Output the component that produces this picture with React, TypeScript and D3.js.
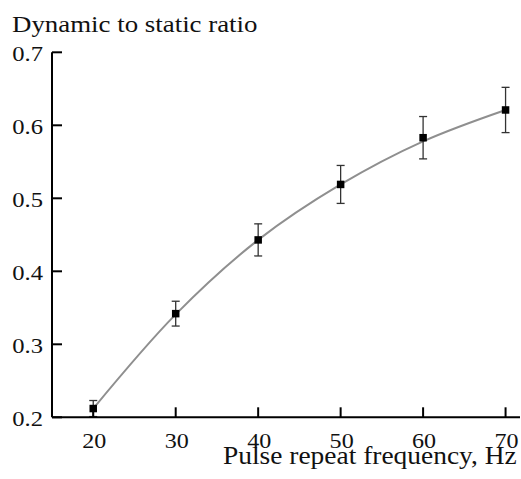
import React from "react";
import * as d3 from "d3";

const frequencies = [20, 30, 40, 50, 60, 70];
const ratios = [0.212, 0.342, 0.443, 0.519, 0.583, 0.621];
const errors = [0.011, 0.017, 0.022, 0.026, 0.029, 0.031];
const fitValues = [0.212, 0.341, 0.443, 0.519, 0.578, 0.621];
const xTicks = [20, 30, 40, 50, 60, 70];
const yTicks = [0.2, 0.3, 0.4, 0.5, 0.6, 0.7];

const W = 521;
const H = 479;
const FONT = "Liberation Serif";
const SX = 1.12;

function T(props: {
  x: number;
  y: number;
  size: number;
  anchor?: "start" | "middle" | "end";
  children: React.ReactNode;
}) {
  return (
    <text
      transform={`translate(${props.x},${props.y}) scale(${SX},1)`}
      fontSize={props.size}
      fontFamily={FONT}
      textAnchor={props.anchor || "start"}
      fill="#111"
    >
      {props.children}
    </text>
  );
}

export default function App() {
  const x = d3.scaleLinear().domain([15, 71.75]).range([52, 520]);
  const y = d3.scaleLinear().domain([0.2, 0.7]).range([417.3, 52.3]);

  const fitPts: [number, number][] = frequencies.map((f, i) => [x(f), y(fitValues[i])]);
  const line = d3.line().curve(d3.curveCatmullRom.alpha(0.5))(fitPts) || "";

  return (
    <svg
      width={W}
      height={H}
      style={{ position: "absolute", left: 0, top: 0, background: "#fff", fontFamily: FONT }}
    >
      {/* fitted curve */}
      <path d={line} fill="none" stroke="#8f8f8f" strokeWidth={2} />

      {/* error bars */}
      {frequencies.map((f, i) => {
        const cx = x(f);
        const top = y(ratios[i] + errors[i]);
        const bot = y(ratios[i] - errors[i]);
        return (
          <g key={"e" + f} stroke="#333" strokeWidth={1.3}>
            <line x1={cx} x2={cx} y1={top} y2={bot} />
            <line x1={cx - 4} x2={cx + 4} y1={top} y2={top} />
            <line x1={cx - 4} x2={cx + 4} y1={bot} y2={bot} />
          </g>
        );
      })}

      {/* markers */}
      {frequencies.map((f, i) => (
        <rect
          key={"m" + f}
          x={x(f) - 3.75}
          y={y(ratios[i]) - 3.75}
          width={7.5}
          height={7.5}
          fill="#000"
        />
      ))}

      {/* axes */}
      <line x1={x(15)} x2={x(71.75)} y1={y(0.2)} y2={y(0.2)} stroke="#000" strokeWidth={2} />
      <line x1={x(15)} x2={x(15)} y1={y(0.2)} y2={y(0.7)} stroke="#000" strokeWidth={2} />

      {xTicks.map((t) => (
        <g key={"xt" + t}>
          <line x1={x(t)} x2={x(t)} y1={y(0.2)} y2={y(0.2) - 10} stroke="#000" strokeWidth={2} />
          <T x={x(t) + 1} y={448} size={21.5} anchor="middle">
            {t}
          </T>
        </g>
      ))}

      {yTicks.map((t) => (
        <g key={"yt" + t}>
          <line x1={x(15)} x2={x(15) + 10} y1={y(t)} y2={y(t)} stroke="#000" strokeWidth={2} />
          <T x={43} y={y(t) + 8.5} size={22} anchor="end">
            {t.toFixed(1)}
          </T>
        </g>
      ))}

      <T x={12} y={31.7} size={24}>
        Dynamic to static ratio
      </T>
      <T x={516.7} y={463.5} size={24.5} anchor="end">
        Pulse repeat frequency, Hz
      </T>
    </svg>
  );
}
